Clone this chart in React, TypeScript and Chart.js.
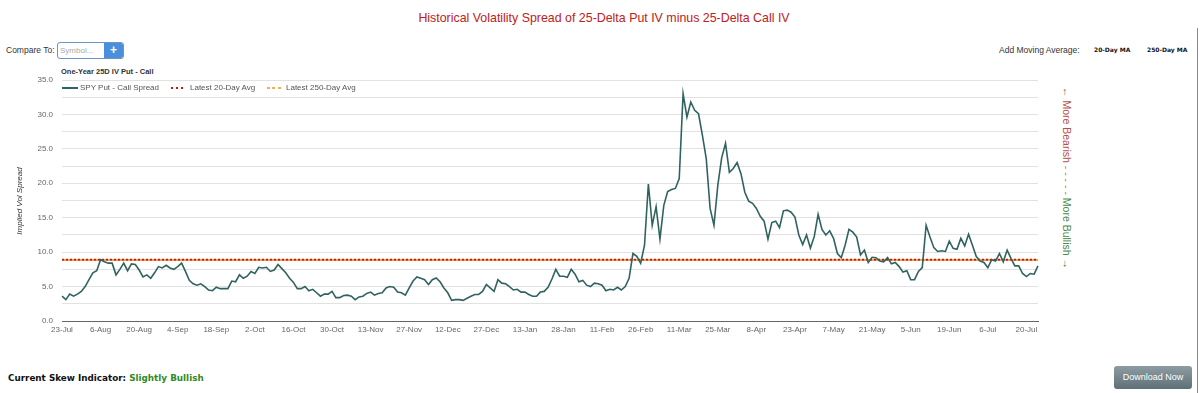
import React, { useEffect, useRef } from 'react';
import { Chart, registerables } from 'chart.js';

Chart.register(...registerables);

const tickLabels = [
  '23-Jul', '6-Aug', '20-Aug', '4-Sep', '18-Sep', '2-Oct', '16-Oct', '30-Oct', '13-Nov',
  '27-Nov', '12-Dec', '27-Dec', '13-Jan', '28-Jan', '11-Feb', '26-Feb', '11-Mar', '25-Mar',
  '8-Apr', '23-Apr', '7-May', '21-May', '5-Jun', '19-Jun', '6-Jul', '20-Jul',
];

const spreadValues = [
  3.6, 3.1, 3.9, 3.6, 3.9, 4.3, 5.0, 6.0, 7.0, 7.3,
  8.9, 8.6, 8.4, 8.4, 6.7, 7.5, 8.4, 7.3, 8.3, 8.2,
  7.4, 6.4, 6.7, 6.2, 7.0, 7.9, 7.7, 8.1, 7.7, 7.5,
  7.9, 8.4, 7.2, 5.9, 5.4, 5.2, 5.4, 5.0, 4.5, 4.4,
  4.9, 4.7, 4.7, 4.7, 5.8, 5.7, 6.7, 6.2, 6.5, 7.2,
  6.9, 7.8, 7.7, 7.8, 7.2, 7.4, 8.2, 7.6, 7.0, 6.2,
  5.6, 4.7, 4.7, 5.0, 4.4, 4.6,
  4.1, 3.6, 3.9, 3.9, 4.3, 3.4, 3.4, 3.7, 3.75, 3.6,
  3.1, 3.5, 3.6, 4.0, 4.2, 3.75, 4.0, 4.1, 4.8, 5.0,
  4.9, 4.2, 4.1, 3.75, 4.8, 5.8, 6.4, 6.2, 6.0, 5.3,
  6.0, 6.25, 5.7, 4.8, 4.1, 3.0, 3.1, 3.1, 3.0, 3.3,
  3.6, 3.85, 3.85, 4.3, 5.3, 4.8, 4.3, 6.0, 5.5, 5.4,
  5.0, 4.5, 4.6, 4.2, 4.2, 3.85, 3.6, 3.6, 4.2, 4.3,
  4.9, 6.1, 7.5, 6.5, 6.5, 6.35, 7.5, 6.8, 5.7,
  5.9, 5.2, 5.0, 5.5, 5.4, 5.2, 4.4, 4.6, 4.5, 4.9,
  4.5, 5.0, 6.2, 9.8, 9.4, 8.4, 11.0, 19.9, 13.9, 16.6,
  11.9, 16.8, 18.8, 19.1, 19.25, 20.7, 33.0, 29.6, 31.8, 30.6,
  30.1, 27.0, 23.6, 16.35, 13.9, 19.7, 23.7, 25.8, 21.6, 22.15,
  23.0, 21.4, 18.7, 17.4, 17.1, 16.35, 15.2, 14.5, 11.9, 14.3,
  14.5, 13.55, 16.0, 16.1, 15.8, 15.1, 12.5, 11.1, 12.5, 10.6,
  12.25,
  15.5, 13.3, 12.5, 13.1, 12.0, 9.8, 9.2, 11.0, 13.3, 12.9,
  12.2, 9.6, 10.3, 8.5, 9.25, 9.2, 8.7, 8.6, 9.2, 8.3,
  8.5, 7.9, 7.1, 7.3, 6.0, 6.0, 7.2, 7.75, 13.9, 12.2,
  10.65, 10.1, 10.2, 10.1, 11.6, 10.55, 10.4, 12.0, 10.9, 12.6,
  11.0, 9.35, 8.7, 8.5, 7.75, 8.9, 8.7, 9.8, 8.6, 10.3,
  9.1, 8.0, 8.0, 6.9, 6.45, 6.9, 6.8, 8.0,
];

const latest20DayAvg = 8.9;
const latest250DayAvg = 8.85;
const yMin = 0;
const yMax = 35;
const yStep = 2.5;

const SANS = "'Liberation Sans', Arial, sans-serif";
const VERD = "'DejaVu Sans', Verdana, sans-serif";

function T(props: { x: number; y: number; size: number; children: React.ReactNode; style?: React.CSSProperties }) {
  const h = 20;
  return (
    <div
      style={{
        position: 'absolute',
        left: props.x,
        top: props.y - h / 2,
        height: h,
        lineHeight: h + 'px',
        fontSize: props.size,
        fontFamily: SANS,
        whiteSpace: 'nowrap',
        color: '#333',
        ...props.style,
      }}
    >
      {props.children}
    </div>
  );
}

export default function App() {
  const ref = useRef<HTMLCanvasElement>(null);

  useEffect(() => {
    const labels = spreadValues.map((_, i) => (i % 10 === 0 ? tickLabels[i / 10] ?? '' : ''));
    const chart = new Chart(ref.current!, {
      type: 'line',
      data: {
        labels,
        datasets: [
          {
            label: 'SPY Put - Call Spread',
            data: spreadValues,
            borderColor: '#2f6360',
            borderWidth: 1.6,
            pointRadius: 0,
            tension: 0,
          },
          {
            label: 'Latest 20-Day Avg',
            data: spreadValues.map(() => latest20DayAvg),
            borderColor: '#c8141c',
            borderWidth: 2,
            borderDash: [2, 2],
            pointRadius: 0,
          },
          {
            label: 'Latest 250-Day Avg',
            data: spreadValues.map(() => latest250DayAvg),
            borderColor: '#f2a93b',
            borderWidth: 2,
            borderDash: [2, 2],
            borderDashOffset: 2,
            pointRadius: 0,
          },
        ],
      },
      options: {
        responsive: false,
        animation: false,
        devicePixelRatio: 1,
        layout: { padding: { top: 20, right: 7, left: 0, bottom: 0 } },
        plugins: { legend: { display: false }, tooltip: { enabled: false } },
        scales: {
          x: {
            grid: { display: false, drawTicks: false },
            border: { display: true, color: '#666', dash: [3, 2], width: 1 },
            ticks: {
              autoSkip: false,
              maxRotation: 0,
              minRotation: 0,
              padding: 4,
              color: '#666',
              font: { family: SANS, size: 8 },
            },
            afterFit: (s: any) => {
              s.height = 24;
            },
          },
          y: {
            min: yMin,
            max: yMax,
            ticks: {
              stepSize: yStep,
              padding: 9,
              color: '#666',
              font: { family: SANS, size: 8 },
              callback: (v: any) => (Number(v) % 5 === 0 ? Number(v).toFixed(1) : ''),
            },
            grid: {
              drawTicks: false,
              color: (ctx: any) => (ctx.tick && ctx.tick.value === 0 ? 'rgba(0,0,0,0)' : '#e2e2e2'),
            },
            border: { display: false },
            afterFit: (s: any) => {
              s.width = 62;
            },
          },
        },
      },
    });
    return () => chart.destroy();
  }, []);

  return (
    <div style={{ position: 'fixed', left: 0, top: 0, width: 1200, height: 393, background: '#fff', overflow: 'hidden' }}>
      <div
        style={{
          position: 'absolute',
          left: 0,
          width: 1208,
          top: 8,
          height: 20,
          lineHeight: '20px',
          textAlign: 'center',
          fontFamily: SANS,
          fontSize: 12.4,
          color: '#c0201a',
        }}
      >
        Historical Volatility Spread of 25-Delta Put IV minus 25-Delta Call IV
      </div>

      <div style={{ position: 'absolute', left: 1197, top: 28, width: 1, height: 365, background: '#8a8a8a' }} />

      <T x={6} y={50} size={8.5}>Compare To:</T>
      <div
        style={{
          position: 'absolute',
          left: 57,
          top: 42,
          width: 65,
          height: 15,
          border: '1px solid #6f93c2',
          borderRadius: 3,
          overflow: 'hidden',
          background: '#fff',
        }}
      >
        <div style={{ position: 'absolute', left: 2, top: 0, lineHeight: '15px', fontSize: 8, fontFamily: SANS, color: '#aaa' }}>
          Symbol...
        </div>
        <div
          style={{
            position: 'absolute',
            left: 46,
            top: 0,
            width: 19,
            height: 15,
            background: '#4a8fdb',
            color: '#fff',
            textAlign: 'center',
            lineHeight: '15px',
            fontSize: 12,
            fontWeight: 'bold',
            fontFamily: SANS,
          }}
        >
          +
        </div>
      </div>

      <T x={999} y={50} size={8.5}>Add Moving Average:</T>
      <T x={1094} y={50} size={6} style={{ fontFamily: VERD, fontWeight: 'bold', color: '#111' }}>20-Day MA</T>
      <T x={1147} y={50} size={6} style={{ fontFamily: VERD, fontWeight: 'bold', color: '#111' }}>250-Day MA</T>

      <T x={61} y={72} size={7.5} style={{ fontWeight: 'bold', color: '#333' }}>One-Year 25D IV Put - Call</T>

      <canvas ref={ref} width={1045} height={285} style={{ position: 'absolute', left: 0, top: 60, width: 1045, height: 285 }} />

      <div style={{ position: 'absolute', left: 62, top: 87, width: 16, height: 2, background: '#2f6360' }} />
      <T x={80} y={88} size={8} style={{ color: '#555' }}>SPY Put - Call Spread</T>
      <div
        style={{
          position: 'absolute',
          left: 171,
          top: 87,
          width: 13,
          height: 2,
          background: 'repeating-linear-gradient(to right, #c8141c 0 2px, transparent 2px 5px)',
        }}
      />
      <T x={190} y={88} size={8} style={{ color: '#555' }}>Latest 20-Day Avg</T>
      <div
        style={{
          position: 'absolute',
          left: 267,
          top: 87,
          width: 14,
          height: 2,
          background: 'repeating-linear-gradient(to right, #f2b04a 0 3px, transparent 3px 5.5px)',
        }}
      />
      <T x={286} y={88} size={8} style={{ color: '#555' }}>Latest 250-Day Avg</T>

      <div
        style={{
          position: 'absolute',
          left: 20 - 100,
          top: 201 - 7,
          width: 200,
          height: 14,
          lineHeight: '14px',
          textAlign: 'center',
          transform: 'rotate(-90deg)',
          fontFamily: SANS,
          fontSize: 8,
          fontStyle: 'italic',
          color: '#333',
        }}
      >
        Implied Vol Spread
      </div>

      <div
        style={{
          position: 'absolute',
          left: 1067 - 130,
          top: 178 - 8,
          width: 260,
          height: 16,
          lineHeight: '16px',
          textAlign: 'center',
          transform: 'rotate(90deg)',
          fontFamily: SANS,
          fontSize: 10.5,
          whiteSpace: 'nowrap',
        }}
      >
        <span style={{ color: '#b5504c' }}>← More Bearish</span>
        <span style={{ color: '#888' }}> - - - - - </span>
        <span style={{ color: '#4a8a4a' }}>More Bullish →</span>
      </div>

      <T x={8} y={378} size={8.8} style={{ fontFamily: VERD, fontWeight: 'bold', color: '#111' }}>
        Current Skew Indicator:{' '}
        <span style={{ color: '#2f8a1f' }}>Slightly Bullish</span>
      </T>

      <div
        style={{
          position: 'absolute',
          left: 1114,
          top: 366,
          width: 78,
          height: 23,
          borderRadius: 3,
          background: 'linear-gradient(#8c9ca2, #5e7077)',
          color: '#fff',
          textAlign: 'center',
          lineHeight: '23px',
          fontFamily: SANS,
          fontSize: 9,
        }}
      >
        Download Now
      </div>
    </div>
  );
}
